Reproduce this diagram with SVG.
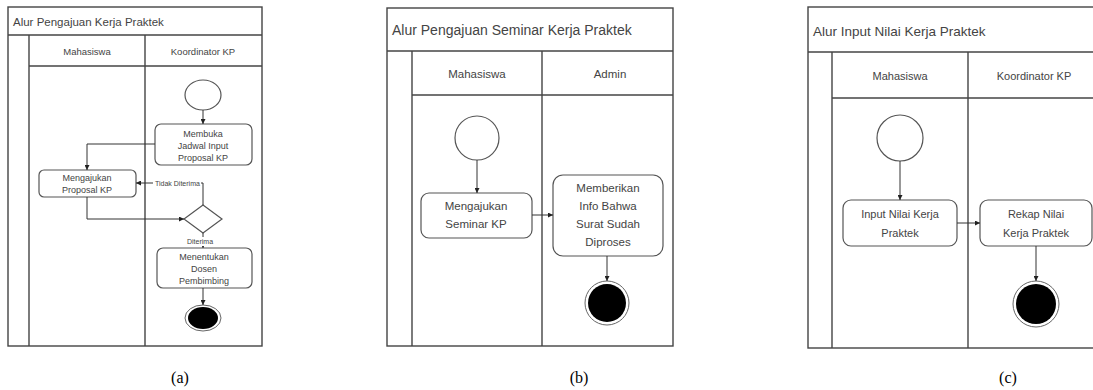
<svg xmlns="http://www.w3.org/2000/svg" width="1093" height="390" viewBox="0 0 1093 390">
<style>
.frame{fill:none;stroke:#444;stroke-width:1.4}
.box{fill:#fff;stroke:#555;stroke-width:1.2}
.start{fill:#fff;stroke:#555;stroke-width:1.2}
.endo{fill:#fff;stroke:#666;stroke-width:1}
.endi{fill:#000}
.conn{fill:none;stroke:#333;stroke-width:1}
.lblbg{fill:#fff}
.t{font-family:"Liberation Sans",Arial,sans-serif;fill:#444;text-anchor:middle}
.title{font-family:"Liberation Sans",Arial,sans-serif;fill:#444}
.cap{font-family:"Liberation Serif","Times New Roman",serif;font-size:16px;fill:#000;text-anchor:middle}
</style>
<defs>
<marker id="ah" viewBox="0 0 10 10" refX="10" refY="5" markerWidth="5" markerHeight="5" orient="auto" markerUnits="userSpaceOnUse">
<path d="M0,0 L10,5 L0,10 z" fill="#222"/>
</marker>
</defs>
<rect width="1093" height="390" fill="#fff"/>

<!-- Panel (a) -->
<g id="poolA">
<rect class="frame" x="8" y="7" width="254" height="339"/>
<line class="frame" x1="8" y1="35" x2="262" y2="35"/>
<line class="frame" x1="29" y1="35" x2="29" y2="346"/>
<line class="frame" x1="145" y1="35" x2="145" y2="346"/>
<line class="frame" x1="29" y1="66" x2="262" y2="66"/>
<text class="title" x="13" y="26" font-size="11.5">Alur Pengajuan Kerja Praktek</text>
<text class="t" x="87" y="55" font-size="9.5">Mahasiswa</text>
<text class="t" x="203" y="55" font-size="9.5">Koordinator KP</text>
</g>
<g id="a-start"><ellipse class="start" cx="203" cy="95" rx="18" ry="15"/></g>
<g id="a-membuka">
<rect class="box" x="155" y="124" width="97" height="41" rx="6"/>
<text class="t" x="203" y="137" font-size="9">Membuka</text>
<text class="t" x="203" y="149" font-size="9">Jadwal Input</text>
<text class="t" x="203" y="161" font-size="9">Proposal KP</text>
</g>
<g id="a-mengajukan">
<rect class="box" x="39" y="170" width="97" height="27" rx="5"/>
<text class="t" x="87" y="181" font-size="9">Mengajukan</text>
<text class="t" x="87" y="193" font-size="9">Proposal KP</text>
</g>
<g id="a-decision"><polygon class="box" points="203,205 222,219 203,233 184,219"/></g>
<g id="a-menentukan">
<rect class="box" x="157" y="248" width="95" height="40" rx="6"/>
<text class="t" x="204" y="260" font-size="9">Menentukan</text>
<text class="t" x="204" y="272" font-size="9">Dosen</text>
<text class="t" x="204" y="284" font-size="9">Pembimbing</text>
</g>
<g id="a-end">
<ellipse class="endo" cx="203" cy="318" rx="18" ry="13"/>
<ellipse class="endi" cx="203" cy="318" rx="15" ry="11"/>
</g>

<!-- Panel (b) -->
<g id="poolB">
<rect class="frame" x="387" y="8" width="286" height="338"/>
<line class="frame" x1="387" y1="51" x2="673" y2="51"/>
<line class="frame" x1="412" y1="51" x2="412" y2="346"/>
<line class="frame" x1="542" y1="51" x2="542" y2="346"/>
<line class="frame" x1="412" y1="95" x2="673" y2="95"/>
<text class="title" x="392" y="35" font-size="14">Alur Pengajuan Seminar Kerja Praktek</text>
<text class="t" x="477" y="78" font-size="11.5">Mahasiswa</text>
<text class="t" x="610" y="78" font-size="11.5">Admin</text>
</g>
<g id="b-start"><circle class="start" cx="477" cy="138" r="22"/></g>
<g id="b-mengajukan">
<rect class="box" x="421" y="193" width="111" height="45" rx="8"/>
<text class="t" x="476" y="210" font-size="11.5">Mengajukan</text>
<text class="t" x="476" y="228" font-size="11.5">Seminar KP</text>
</g>
<g id="b-memberikan">
<rect class="box" x="553" y="175" width="110" height="81" rx="10"/>
<text class="t" x="608" y="192" font-size="11.5">Memberikan</text>
<text class="t" x="608" y="210" font-size="11.5">Info Bahwa</text>
<text class="t" x="608" y="228" font-size="11.5">Surat Sudah</text>
<text class="t" x="608" y="246" font-size="11.5">Diproses</text>
</g>
<g id="b-end">
<circle class="endo" cx="607" cy="303" r="22"/>
<circle class="endi" cx="607" cy="303" r="19"/>
</g>

<!-- Panel (c) -->
<g id="poolC">
<rect class="frame" x="808" y="7" width="300" height="341"/>
<line class="frame" x1="808" y1="52" x2="1093" y2="52"/>
<line class="frame" x1="832" y1="52" x2="832" y2="348"/>
<line class="frame" x1="968" y1="52" x2="968" y2="348"/>
<line class="frame" x1="832" y1="98" x2="1093" y2="98"/>
<text class="title" x="813" y="36" font-size="13.5">Alur Input Nilai Kerja Praktek</text>
<text class="t" x="900" y="80" font-size="11">Mahasiswa</text>
<text class="t" x="1034" y="80" font-size="11">Koordinator KP</text>
</g>
<g id="c-start"><circle class="start" cx="900" cy="138" r="23"/></g>
<g id="c-input">
<rect class="box" x="843" y="200" width="114" height="46" rx="8"/>
<text class="t" x="900" y="218" font-size="11">Input Nilai Kerja</text>
<text class="t" x="900" y="237" font-size="11">Praktek</text>
</g>
<g id="c-rekap">
<rect class="box" x="980" y="200" width="112" height="46" rx="8"/>
<text class="t" x="1036" y="218" font-size="11">Rekap Nilai</text>
<text class="t" x="1036" y="237" font-size="11">Kerja Praktek</text>
</g>
<g id="c-end">
<circle class="endo" cx="1036" cy="304" r="23"/>
<circle class="endi" cx="1036" cy="304" r="20"/>
</g>

<!-- Connectors -->
<g id="connectors">
<path class="conn" d="M203,110 L203,124" marker-end="url(#ah)"/>
<path class="conn" d="M155,144 L87,144 L87,170" marker-end="url(#ah)"/>
<path class="conn" d="M203,205 L203,183 L136,183" marker-end="url(#ah)"/>
<path class="conn" d="M87,197 L87,219 L184,219" marker-end="url(#ah)"/>
<path class="conn" d="M203,233 L203,248" marker-end="url(#ah)"/>
<path class="conn" d="M203,288 L203,305" marker-end="url(#ah)"/>
<path class="conn" d="M477,160 L477,193" marker-end="url(#ah)"/>
<path class="conn" d="M532,215 L553,215" marker-end="url(#ah)"/>
<path class="conn" d="M607,256 L607,281" marker-end="url(#ah)"/>
<path class="conn" d="M900,161 L900,200" marker-end="url(#ah)"/>
<path class="conn" d="M957,223 L980,223" marker-end="url(#ah)"/>
<path class="conn" d="M1036,246 L1036,281" marker-end="url(#ah)"/>
<rect class="lblbg" x="153" y="179" width="48" height="9"/>
<text class="title" x="155" y="186" font-size="7">Tidak Diterima</text>
<rect class="lblbg" x="186" y="237" width="31" height="9"/>
<text class="title" x="187" y="244" font-size="7">Diterima</text>
</g>

<!-- Captions -->
<text class="cap" x="180" y="383">(a)</text>
<text class="cap" x="579" y="383">(b)</text>
<text class="cap" x="1008" y="383">(c)</text>
</svg>
